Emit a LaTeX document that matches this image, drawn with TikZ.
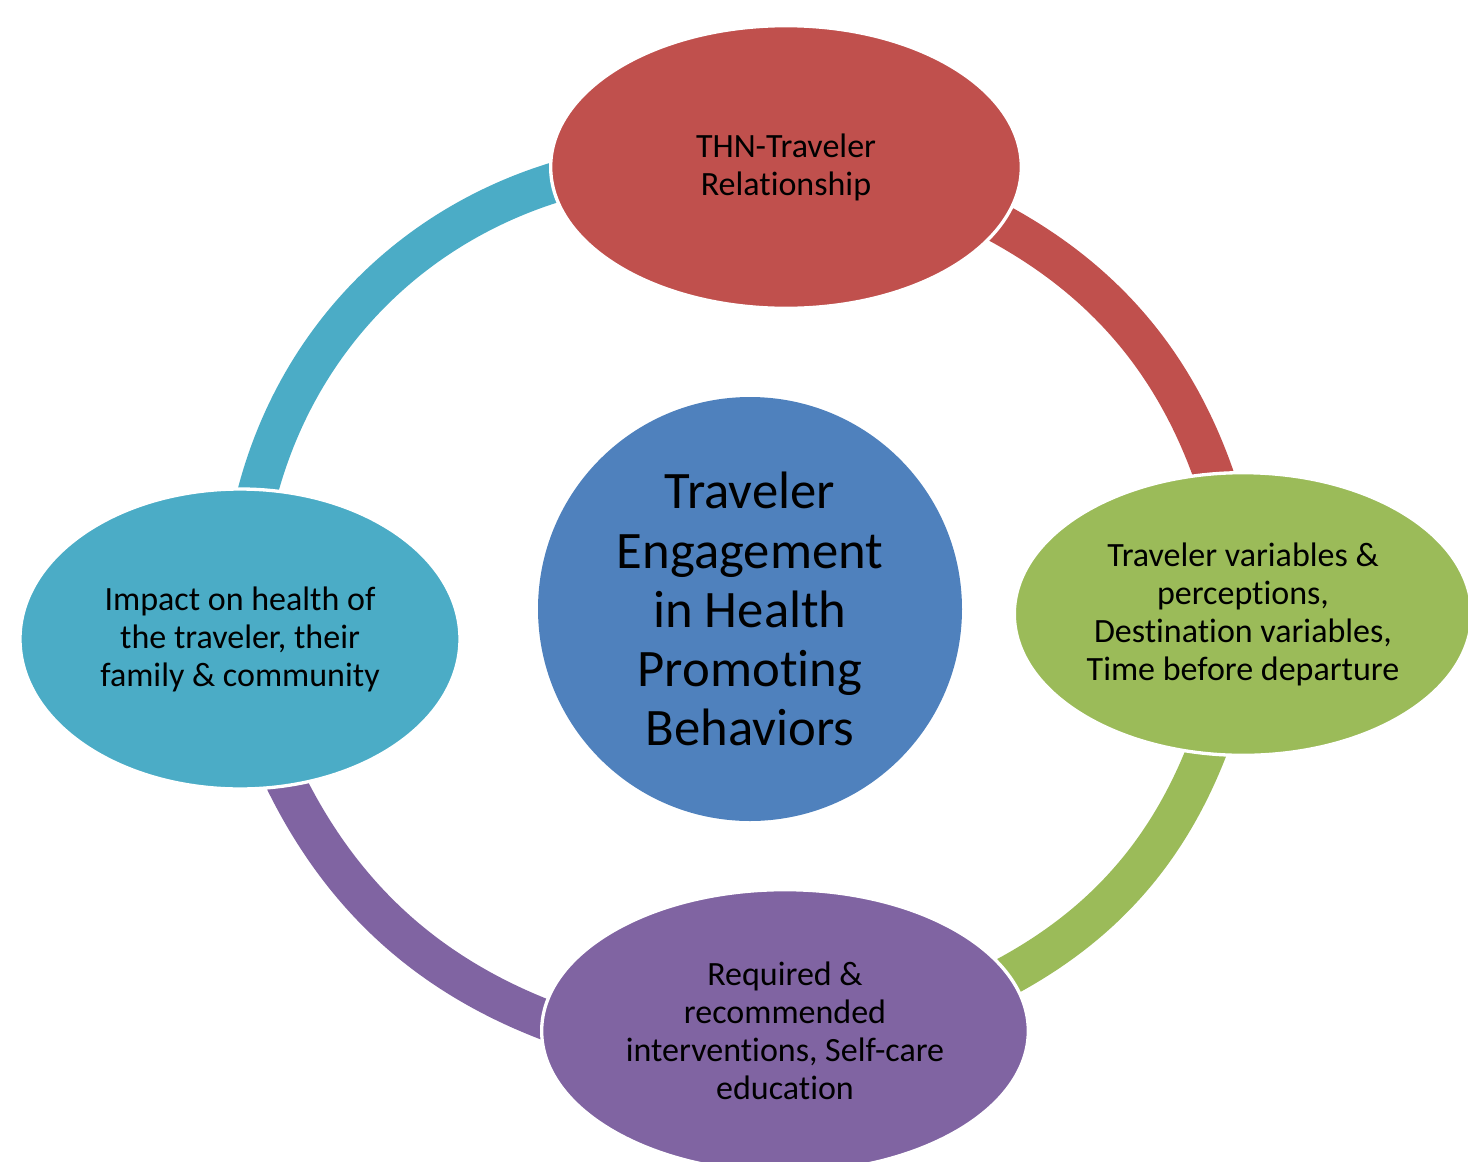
\documentclass[tikz,border=0pt]{standalone}
\usepackage{fontspec}
\setmainfont{Carlito}[Ligatures=NoCommon]
\usetikzlibrary{shapes.geometric,backgrounds}
\definecolor{hubblue}{HTML}{4F81BD}
\definecolor{thnred}{HTML}{C0504D}
\definecolor{vargreen}{HTML}{9BBB59}
\definecolor{reqpurple}{HTML}{8064A2}
\definecolor{impteal}{HTML}{4BACC6}
\tikzset{
	bubble/.style={ellipse, draw=white, line width=2.5pt, inner sep=0pt, align=center, font=\fontsize{25.5}{28.5}\selectfont},
	band/.style={line width=30pt, looseness=0.9, shorten <=-10pt, shorten >=-10pt},
}
\begin{document}
\begin{tikzpicture}[x=0.75pt, y=0.75pt]
		\useasboundingbox (0,0) rectangle (1468,-1161);
		\node[circle, fill=hubblue, minimum size=318pt, inner sep=0pt, align=center, font=\fontsize{39.5}{44.3}\selectfont] (hub) at (750,-609) {Traveler\\Engagement\\in Health\\Promoting\\Behaviors};
		\node[bubble, fill=thnred, minimum width=353pt, minimum height=212pt] (thn) at (786,-167) {THN-Traveler\\Relationship};
		\node[bubble, fill=vargreen, minimum width=343pt, minimum height=212pt] (var) at (1243,-614) {Traveler variables \&\\perceptions,\\Destination variables,\\Time before departure};
		\node[bubble, fill=reqpurple, minimum width=365pt, minimum height=212pt] (req) at (785,-1031) {Required \&\\recommended\\interventions, Self-care\\education};
		\node[bubble, fill=impteal, minimum width=330pt, minimum height=225pt] (imp) at (240,-639) {Impact on health of\\the traveler, their\\family \& community};
		\begin{pgfonlayer}{background}
			\draw[band, thnred] (thn.-15) to[bend left=22] (var.102);
			\draw[band, vargreen] (var.-105) to[bend left=21] (req.14);
			\draw[band, reqpurple] (req.177) to[bend left=22] (imp.-72);
			\draw[band, impteal] (imp.83) to[bend left=30] (thn.184);
		\end{pgfonlayer}
	\end{tikzpicture}
\end{document}
